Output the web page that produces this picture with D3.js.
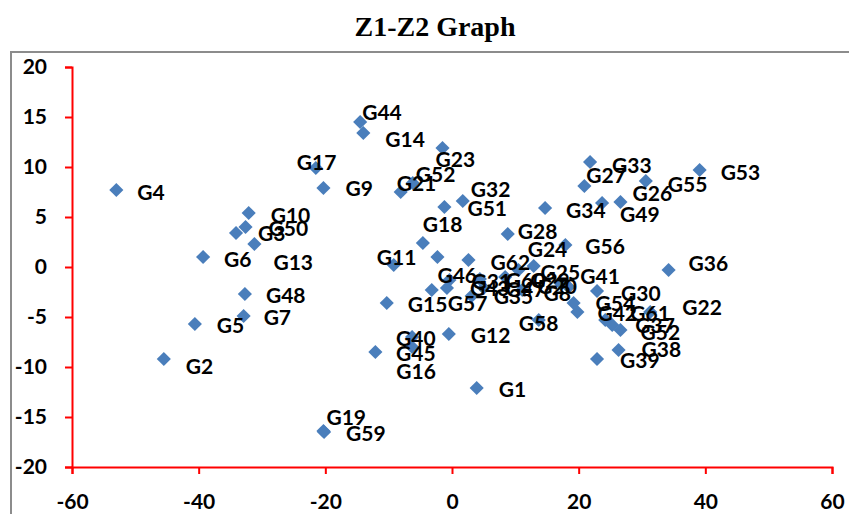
<!DOCTYPE html>
<html>
<head>
<meta charset="utf-8">
<script src="https://cdn.jsdelivr.net/npm/d3@7"></script>
<style>
  body { margin: 0; background: #fff; }
  .canvas text { font-family: Lato, "Open Sans", sans-serif; font-weight: bold; }
</style>
</head>
<body>
<div class="canvas"></div>
<script>
// DATA
const names = ["G1","G2","G3","G4","G5","G6","G7","G8","G9","G10",
    "G11","G12","G13","G14","G15","G16","G17","G18","G19","G20",
    "G21","G22","G23","G24","G25","G26","G27","G28","G29","G30",
    "G31","G32","G33","G34","G35","G36","G37","G38","G39","G40",
    "G41","G42","G43","G44","G45","G46","G47","G48","G49","G50",
    "G51","G52","G53","G54","G55","G56","G57","G58","G59","G60",
    "G61","G62","G52"];

const z1 = [3.9,-45.5,-34.1,-53.0,-40.6,-39.3,-32.9,18.4,-20.3,-32.1,
    -9.2,-0.5,-31.2,-14.0,-10.3,-12.1,-21.5,-4.6,-20.3,11.1,
    -8.1,31.3,-1.5,12.9,10.5,26.6,20.9,8.8,8.4,22.9,
    -0.4,1.7,21.8,14.7,3.1,34.2,25.3,26.3,22.9,-6.3,
    17.1,19.8,-0.8,-14.5,-6.3,-2.3,5.0,-32.7,23.7,-32.6,
    -1.2,-6.2,39.1,19.2,30.6,17.9,-3.2,13.7,-20.2,4.4,
    24.2,2.6,26.6];

const z2 = [-12.1,-9.2,3.4,7.7,-5.7,1.0,-4.9,-2.0,7.9,5.4,
    0.2,-6.7,2.3,13.4,-3.6,-8.5,9.9,2.4,-16.4,-2.3,
    7.5,-4.5,11.9,0.1,-0.3,6.5,8.1,3.3,-1.0,-2.4,
    -1.3,6.6,10.5,5.9,-2.9,-0.3,-5.8,-8.3,-9.2,-7.0,
    -1.6,-4.5,-2.1,14.5,-8.0,1.0,-2.1,-2.7,6.4,4.0,
    6.0,8.4,9.7,-3.6,8.6,2.2,-2.3,-5.3,-16.5,-1.2,
    -5.3,0.7,-6.3];

const xTicks = [-60,-40,-20,0,20,40,60];
const yTicks = [-20,-15,-10,-5,0,5,10,15,20];

// label nudges in px (left edge / vertical centre of label relative to marker)
const nudge = {
    0:[22,1],1:[22,7],2:[22,0],3:[21,2],4:[22,1],5:[21,2],6:[20,1],7:[-25,6],8:[22,0],9:[22,2],
    10:[-17,-8],11:[22,1],12:[19,18],13:[22,6],14:[21,1],15:[21,19],16:[-19,-6],17:[0,-19],18:[3,-14],19:[15,-4],
    20:[-4,-9],21:[32,-5],22:[-7,11],23:[-6,-17],24:[22,2],25:[12,-9],26:[2,-11],27:[10,-3],28:[25,3],29:[24,2],
    30:[22,1],31:[8,-12],32:[22,3],33:[21,2],34:[22,0],35:[20,-7],36:[23,0],37:[23,-1],38:[23,1],39:[-16,1],
    40:[20,-7],41:[20,1],42:[23,0],43:[2,-10],44:[-16,6],45:[0,18],46:[22,1],47:[21,1],48:[18,11],49:[23,1],
    50:[23,1],51:[3,-9],52:[21,2],53:[22,0],54:[22,3],55:[20,1],56:[16,13],57:[-20,3],58:[22,1],59:[26,1],
    60:[25,-7],61:[22,2],62:[20,2]
};

const W = 849, H = 514;
const margins = {top:67, left:72, right:17, bottom:47};
const width = W - margins.left - margins.right;
const height = H - margins.top - margins.bottom;

const svg = d3.select(".canvas")
.append("svg")
.attr("width", W)
.attr("height", H);

// frame + title
svg.append("rect")
.attr("x", 11).attr("y", 52)
.attr("width", 880).attr("height", 500)
.attr("fill", "none")
.attr("stroke", "#8c8c8c")
.attr("stroke-width", 2);

svg.append("text")
.attr("x", 435).attr("y", 36)
.attr("text-anchor", "middle")
.style("font-family", "'Liberation Serif', 'Times New Roman', serif")
.style("font-size", "28px")
.style("font-weight", "bold")
.text("Z1-Z2 Graph");

const canvas = svg.append("g")
.attr("transform", `translate(${margins.left},${margins.top})`);

// SCALES
const xScale = d3.scaleLinear().domain([-60,60]).range([0,width]);
const yScale = d3.scaleLinear().domain([-20,20]).range([height,0]);

// AXES
const xAxis = canvas.append("g")
.attr("transform", `translate(0,${height})`)
.call(d3.axisBottom(xScale).tickValues(xTicks).tickSize(7).tickPadding(20).tickFormat(d3.format("d")));

const yAxis = canvas.append("g")
.call(d3.axisLeft(yScale).tickValues(yTicks).tickSize(7).tickPadding(18).tickFormat(d3.format("d")));

[xAxis, yAxis].forEach(a => {
    a.select(".domain").attr("stroke", "red").attr("stroke-width", 2);
    a.selectAll(".tick line").attr("stroke", "red").attr("stroke-width", 2);
    a.selectAll(".tick text").attr("fill", "#000").style("font-size", "21px");
});

// plain hyphen like the original
canvas.selectAll(".tick text").text(d => String(d));

// POINTS
const pts = names.map((n,i) => ({name:n, x:z1[i], y:z2[i], i:i}));

canvas.selectAll("path.pt")
.data(pts)
.enter()
.append("path")
.attr("class", "pt")
.attr("d", d3.symbol().type(d3.symbolSquare).size(100))
.attr("transform", d => `translate(${xScale(d.x)},${yScale(d.y)}) rotate(45)`)
.attr("fill", "#4a7ebb");

canvas.selectAll("text.lbl")
.data(pts)
.enter()
.append("text")
.attr("class", "lbl")
.attr("x", d => xScale(d.x) + nudge[d.i][0])
.attr("y", d => yScale(d.y) + nudge[d.i][1])
.attr("dy", "0.36em")
.style("font-size", "21px")
.attr("fill", "#000")
.text(d => d.name);
</script>
</body>
</html>
